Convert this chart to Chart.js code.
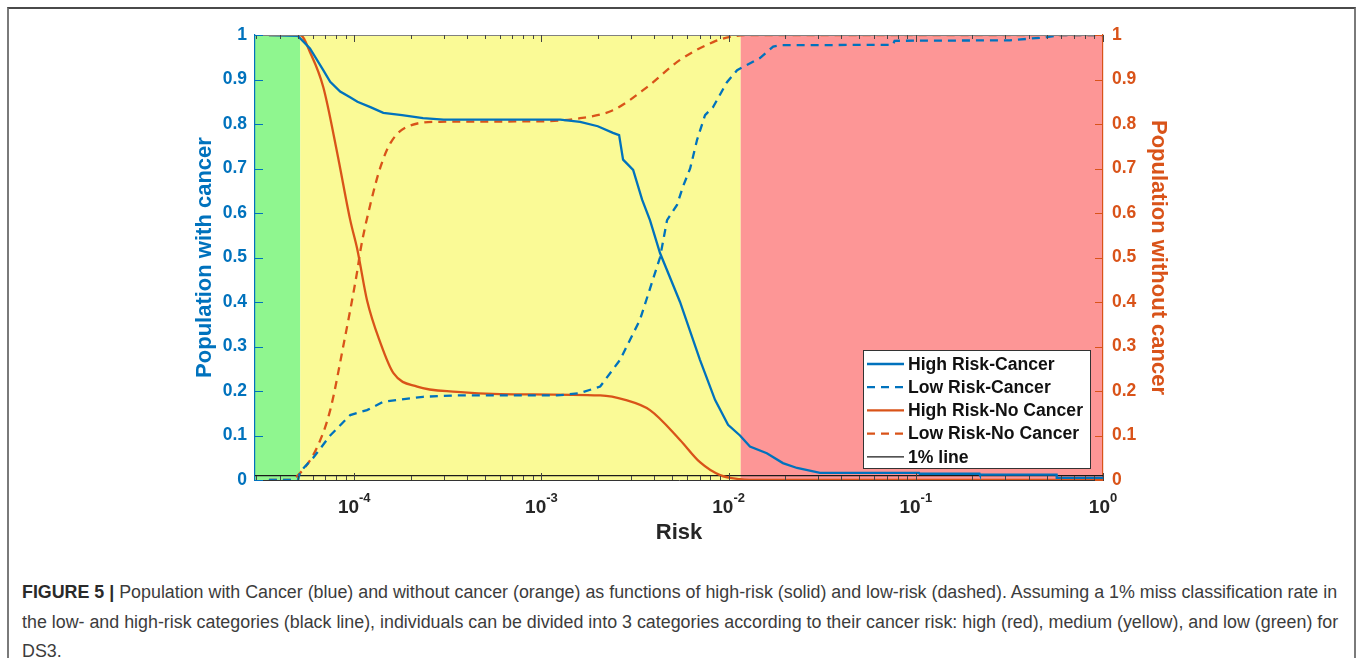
<!DOCTYPE html>
<html>
<head>
<meta charset="utf-8">
<script src="https://cdn.jsdelivr.net/npm/chart.js@4.4.0/dist/chart.umd.min.js"></script>
<style>
  body { margin: 0; background: #fff; width: 1357px; height: 658px; overflow: hidden; position: relative; font-family: "Liberation Sans", Arial, sans-serif; }
  #frame { position: absolute; left: 7px; top: 7px; width: 1345px; height: 700px; border-left: 2px solid #7a7a7a; border-right: 2px solid #7a7a7a; border-top: 2px solid #4a4a4a; }
  #plot { position: absolute; left: 0; top: 0; }
  #cap { position: absolute; left: 22px; top: 578px; font-size: 17.85px; line-height: 29.5px; color: #3c3c3c; white-space: nowrap; }
  #cap b { color: #2a2a2a; }
</style>
</head>
<body>
<div id="frame"></div>
<canvas id="plot" width="1357" height="552"></canvas>
<div id="cap"><b>FIGURE 5 |</b> Population with Cancer (blue) and without cancer (orange) as functions of high-risk (solid) and low-risk (dashed). Assuming a 1% miss classification rate in<br>the low- and high-risk categories (black line), individuals can be divided into 3 categories according to their cancer risk: high (red), medium (yellow), and low (green) for<br>DS3.</div>
<script>
// axis range and category limits (risk)
const riskMin = 2.95e-5;
const riskMax = 1;
const greenEnd = 5.15e-5;
const redStart = 1.16e-2;
const decades = [1e-4, 1e-3, 1e-2, 1e-1, 1];
const decadeExp = ['-4', '-3', '-2', '-1', '0'];
const yTicks = [0, 0.1, 0.2, 0.3, 0.4, 0.5, 0.6, 0.7, 0.8, 0.9, 1];

// High Risk-Cancer (blue solid)
const hrcRisk = [3.5e-5, 5.0e-5, 5.8e-5, 6.83e-5, 7.44e-5, 8.41e-5, 9.5e-5, 1.04e-4, 1.22e-4, 1.43e-4, 1.8e-4, 2.33e-4, 3.0e-4, 1.26e-3, 1.61e-3, 2.0e-3, 2.41e-3, 2.6e-3, 2.73e-3, 3.09e-3, 3.45e-3, 3.8e-3, 4.3e-3, 5.5e-3, 7.03e-3, 8.46e-3, 9.93e-3, 1.15e-2, 1.3e-2, 1.6e-2, 1.95e-2, 2.32e-2, 3.08e-2, 0.104, 0.105, 0.219, 0.22, 0.565, 0.566, 1];
const hrcVal  = [1, 0.998, 0.97, 0.921, 0.895, 0.873, 0.86, 0.85, 0.838, 0.825, 0.82, 0.813, 0.81, 0.81, 0.805, 0.795, 0.78, 0.775, 0.72, 0.697, 0.63, 0.584, 0.51, 0.40, 0.27, 0.18, 0.124, 0.10, 0.075, 0.06, 0.038, 0.027, 0.016, 0.016, 0.014, 0.014, 0.012, 0.012, 0.005, 0.005];

// Low Risk-Cancer (blue dashed)
const lrcRisk = [3.5e-5, 5.0e-5, 5.15e-5, 6.04e-5, 7.44e-5, 9.52e-5, 1.17e-4, 1.43e-4, 2.33e-4, 3.5e-4, 1.21e-3, 1.6e-3, 2.06e-3, 2.63e-3, 3.36e-3, 4.3e-3, 4.69e-3, 5.3e-3, 5.71e-3, 6.23e-3, 6.78e-3, 7.48e-3, 8.26e-3, 9.8e-3, 1.11e-2, 1.47e-2, 1.73e-2, 1.88e-2, 7.55e-2, 7.7e-2, 0.318, 0.5, 0.587, 1];
const lrcVal  = [0, 0, 0.019, 0.05, 0.10, 0.146, 0.157, 0.176, 0.187, 0.19, 0.19, 0.195, 0.21, 0.27, 0.36, 0.50, 0.584, 0.618, 0.66, 0.70, 0.764, 0.82, 0.838, 0.894, 0.921, 0.948, 0.974, 0.977, 0.978, 0.987, 0.988, 0.995, 1, 1];

// High Risk-No Cancer (orange solid)
const hrncRisk = [3.5e-5, 5.15e-5, 5.82e-5, 6.83e-5, 8.11e-5, 9.52e-5, 1.04e-4, 1.17e-4, 1.38e-4, 1.62e-4, 2.17e-4, 3.55e-4, 6.0e-4, 2.06e-3, 2.8e-3, 3.8e-3, 5.5e-3, 7.03e-3, 9.0e-3, 1.15e-2, 1.5e-2, 1];
const hrncVal  = [1, 1, 0.96, 0.883, 0.735, 0.584, 0.517, 0.404, 0.308, 0.24, 0.21, 0.198, 0.193, 0.19, 0.18, 0.157, 0.09, 0.04, 0.011, 0.002, 0, 0];

// Low Risk-No Cancer (orange dashed)
const lrncRisk = [3.5e-5, 4.55e-5, 5.15e-5, 6.34e-5, 7.44e-5, 8.73e-5, 1.04e-4, 1.08e-4, 1.22e-4, 1.38e-4, 1.56e-4, 1.92e-4, 2.88e-4, 1.0e-3, 1.61e-3, 2.41e-3, 3.67e-3, 5.5e-3, 8.26e-3, 1.02e-2, 1.3e-2, 1];
const lrncVal  = [0, 0, 0.016, 0.074, 0.157, 0.30, 0.472, 0.517, 0.62, 0.703, 0.757, 0.794, 0.805, 0.806, 0.813, 0.831, 0.883, 0.944, 0.984, 0.996, 1, 1];

// 1% line
const onePctRisk = [riskMin, riskMax];
const onePctVal = [0.01, 0.01];

const blue = 'rgb(0,114,189)';
const orange = 'rgb(217,83,25)';
const fam = '"Liberation Sans", Arial, sans-serif';

function pts(r, v) {
  return r.map((x, i) => ({ x: x, y: v[i] }));
}

// coloured risk bands behind the curves
const bands = {
  id: 'bands',
  beforeDraw(chart) {
    const { ctx, chartArea: a, scales: { x } } = chart;
    const g = x.getPixelForValue(greenEnd);
    const r = x.getPixelForValue(redStart);
    ctx.save();
    ctx.fillStyle = 'rgb(143,246,143)';
    ctx.fillRect(a.left, a.top, g - a.left, a.bottom - a.top);
    ctx.fillStyle = 'rgb(250,250,150)';
    ctx.fillRect(g, a.top, r - g, a.bottom - a.top);
    ctx.fillStyle = 'rgb(253,150,150)';
    ctx.fillRect(r, a.top, a.right - r, a.bottom - a.top);
    ctx.restore();
  }
};

// inward ticks, top edge, x labels with exponents, legend
const decor = {
  id: 'decor',
  afterDraw(chart) {
    const { ctx, chartArea: a, scales: { x, y } } = chart;
    ctx.save();
    ctx.strokeStyle = '#808080';
    ctx.lineWidth = 1;
    ctx.beginPath();
    ctx.moveTo(a.left, a.top + 0.5);
    ctx.lineTo(a.right, a.top + 0.5);
    ctx.stroke();

    // x ticks (bottom and top)
    ctx.strokeStyle = '#444';
    for (let d = -5; d <= 0; d++) {
      for (let k = 1; k <= 9; k++) {
        const v = k * Math.pow(10, d);
        if (v < riskMin || v > riskMax) continue;
        const px = Math.round(x.getPixelForValue(v)) + 0.5;
        const len = k === 1 ? 7 : 4;
        ctx.beginPath();
        ctx.moveTo(px, a.bottom);
        ctx.lineTo(px, a.bottom - len);
        ctx.moveTo(px, a.top);
        ctx.lineTo(px, a.top + len);
        ctx.stroke();
      }
    }
    // y ticks
    yTicks.forEach(v => {
      const py = Math.round(y.getPixelForValue(v)) + 0.5;
      ctx.strokeStyle = blue;
      ctx.beginPath();
      ctx.moveTo(a.left, py);
      ctx.lineTo(a.left + 8, py);
      ctx.stroke();
      ctx.strokeStyle = orange;
      ctx.beginPath();
      ctx.moveTo(a.right, py);
      ctx.lineTo(a.right - 8, py);
      ctx.stroke();
    });

    // x tick labels 10^n
    ctx.fillStyle = '#262626';
    ctx.textBaseline = 'alphabetic';
    ctx.textAlign = 'left';
    decades.forEach((v, i) => {
      const px = x.getPixelForValue(v);
      ctx.font = 'bold 19px ' + fam;
      const w1 = ctx.measureText('10').width;
      ctx.font = 'bold 13px ' + fam;
      const w2 = ctx.measureText(decadeExp[i]).width;
      const start = px - (w1 + w2) / 2;
      ctx.font = 'bold 19px ' + fam;
      ctx.fillText('10', start, a.bottom + 33);
      ctx.font = 'bold 13px ' + fam;
      ctx.fillText(decadeExp[i], start + w1, a.bottom + 22);
    });

    // legend box
    const bw = 227, bh = 118;
    const bx = a.right - 13 - bw, by = a.bottom - 12 - bh;
    ctx.fillStyle = '#fff';
    ctx.fillRect(bx, by, bw, bh);
    ctx.strokeStyle = '#333';
    ctx.lineWidth = 1;
    ctx.strokeRect(bx + 0.5, by + 0.5, bw, bh);
    ctx.font = 'bold 17.6px ' + fam;
    ctx.textBaseline = 'middle';
    chart.data.datasets.forEach((ds, i) => {
      const ry = by + 14 + i * 23.2;
      ctx.strokeStyle = ds.borderColor;
      ctx.lineWidth = ds.borderWidth;
      ctx.setLineDash(ds.borderDash || []);
      ctx.beginPath();
      ctx.moveTo(bx + 4, ry);
      ctx.lineTo(bx + 41, ry);
      ctx.stroke();
      ctx.setLineDash([]);
      ctx.fillStyle = '#111';
      ctx.fillText(ds.label, bx + 45, ry + 1);
    });
    ctx.restore();
  }
};

const axisFont = { family: fam, size: 17.5, weight: 'bold' };
const titleFont = { family: fam, size: 22, weight: 'bold' };

new Chart(document.getElementById('plot'), {
  type: 'line',
  data: {
    datasets: [
      { label: 'High Risk-Cancer', data: pts(hrcRisk, hrcVal), borderColor: blue, borderWidth: 2.3, yAxisID: 'y' },
      { label: 'Low Risk-Cancer', data: pts(lrcRisk, lrcVal), borderColor: blue, borderWidth: 2.3, borderDash: [8, 6], yAxisID: 'y' },
      { label: 'High Risk-No Cancer', data: pts(hrncRisk, hrncVal), borderColor: orange, borderWidth: 2.3, cubicInterpolationMode: 'monotone', yAxisID: 'y2' },
      { label: 'Low Risk-No Cancer', data: pts(lrncRisk, lrncVal), borderColor: orange, borderWidth: 2.3, borderDash: [8, 6], cubicInterpolationMode: 'monotone', yAxisID: 'y2' },
      { label: '1% line', data: pts(onePctRisk, onePctVal), borderColor: '#1a1a1a', borderWidth: 1.3, yAxisID: 'y' }
    ]
  },
  options: {
    responsive: false,
    animation: false,
    layout: { padding: { left: 188, right: 182, top: 35, bottom: 0 } },
    elements: { point: { radius: 0 }, line: { tension: 0 } },
    plugins: { legend: { display: false }, tooltip: { enabled: false } },
    scales: {
      x: {
        type: 'logarithmic',
        min: riskMin,
        max: riskMax,
        afterFit: s => { s.height = 72; },
        grid: { display: false, drawTicks: false },
        border: { display: true, color: '#333', width: 1 },
        ticks: { display: false },
        title: { display: true, text: 'Risk', color: '#262626', font: titleFont, padding: { top: 0, bottom: 6 } }
      },
      y: {
        position: 'left',
        min: 0,
        max: 1,
        afterBuildTicks: s => { s.ticks = yTicks.map(v => ({ value: v })); },
        afterFit: s => { s.width = 67; },
        grid: { display: false, drawTicks: false },
        border: { display: true, color: blue, width: 1.2 },
        ticks: { color: blue, font: axisFont, padding: 8, callback: v => String(v) },
        title: { display: true, text: 'Population with cancer', color: blue, font: titleFont, padding: { top: 4, bottom: 0 } }
      },
      y2: {
        position: 'right',
        min: 0,
        max: 1,
        afterBuildTicks: s => { s.ticks = yTicks.map(v => ({ value: v })); },
        afterFit: s => { s.width = 72; },
        grid: { display: false, drawTicks: false },
        border: { display: true, color: orange, width: 1.2 },
        ticks: { color: orange, font: axisFont, padding: 9, callback: v => String(v) },
        title: { display: true, text: 'Population without cancer', color: orange, font: titleFont, padding: { top: 4, bottom: 0 } }
      }
    }
  },
  plugins: [bands, decor]
});
</script>
</body>
</html>
